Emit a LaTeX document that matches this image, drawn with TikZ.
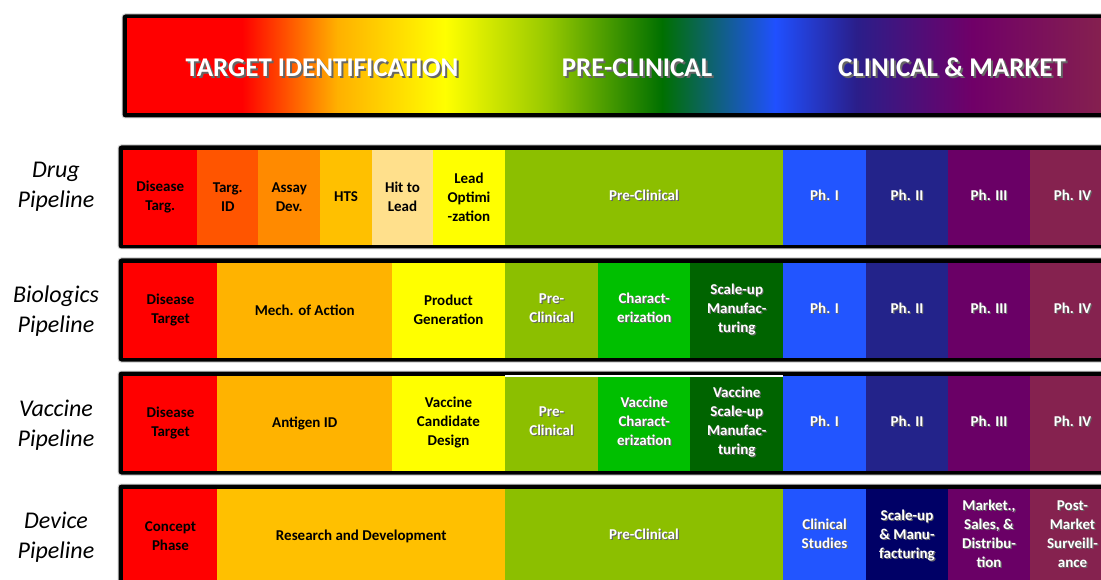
\documentclass[tikz,border=0pt]{standalone}
\usepackage{fontspec}
\newfontfamily\calfont{Carlito}
\usepackage{tikz}
\usetikzlibrary{positioning}

% spectrum of the header bar
\definecolor{gRed}{HTML}{FF0000}
\definecolor{gOrange}{HTML}{FFB000}
\definecolor{gYellow}{HTML}{FFFF00}
\definecolor{gLime}{HTML}{96C800}
\definecolor{gGreen}{HTML}{007000}
\definecolor{gBlue}{HTML}{2050FF}
\definecolor{gIndigo}{HTML}{2A1E8A}
\definecolor{gPurple}{HTML}{700068}
\definecolor{gMaroon}{HTML}{85204F}
% cell colours
\definecolor{cRed}{HTML}{FF0000}
\definecolor{cTargId}{HTML}{FF5500}
\definecolor{cAssay}{HTML}{FF8A00}
\definecolor{cHts}{HTML}{FFC000}
\definecolor{cHit}{HTML}{FFE08C}
\definecolor{cYellow}{HTML}{FFFF00}
\definecolor{cAmber}{HTML}{FFB300}
\definecolor{cLime}{HTML}{8CBF00}
\definecolor{cGreen}{HTML}{00BF00}
\definecolor{cDkGreen}{HTML}{006400}
\definecolor{cBlue}{HTML}{2255FF}
\definecolor{cNavy}{HTML}{23238A}
\definecolor{cDkNavy}{HTML}{000066}
\definecolor{cPurple}{HTML}{6A0066}
\definecolor{cMaroon}{HTML}{85224F}

\newcommand{\cellfont}{\calfont\bfseries\fontsize{15}{19}\selectfont}
\newcommand{\headfont}{\calfont\bfseries\fontsize{27}{32}\selectfont}
\newcommand{\labelfont}{\calfont\itshape\fontsize{24}{30}\selectfont}
% white text with a soft drop shadow
\newcommand{\shd}[2][1.2pt]{\rlap{\kern#1\raisebox{-#1}{\color{black!60}\begin{tabular}{@{}c@{}}#2\end{tabular}}}\begin{tabular}{@{}c@{}}#2\end{tabular}}

\begin{document}
\begin{tikzpicture}[x=1pt,y=-1pt,
  cell/.style={rectangle,fill=#1,draw=#1,line width=0.5pt,minimum height=94pt,inner sep=0pt,outer sep=0pt,align=center,text=black,font=\cellfont},
  wcell/.style={cell=#1,text=white},
  frame/.style={fill=black,draw=black!15,line width=1pt,rounded corners=3pt}]
  \tikzstyle{rowlabel}=[align=center,font=\labelfont]
  \tikzstyle{headtext}=[text=white,font=\headfont]

  \clip (0,0) rectangle (1101,580);
  \fill[white] (0,0) rectangle (1101,580);

  % header bar
  \path[frame] (122,14) rectangle (1125,118);
  \foreach \xa/\xb/\ca/\cb in {127/242/gRed/gRed, 242/337/gRed/gOrange, 337/445/gOrange/gYellow,
      445/548/gYellow/gLime, 548/662/gLime/gGreen, 662/775/gGreen/gBlue, 775/856/gBlue/gIndigo,
      856/972/gIndigo/gPurple, 972/1101/gPurple/gMaroon, 1101/1112/gMaroon/gMaroon}
    \shade[left color=\ca,right color=\cb] (\xa,19) rectangle (\xb+0.4,113);
  \node[headtext] (tTarget) at (322,71) {\shd[2pt]{TARGET IDENTIFICATION}};
  \node[headtext] (tPre) at (637,71) {\shd[2pt]{PRE-CLINICAL}};
  \node[headtext] (tClin) at (952,71) {\shd[2pt]{CLINICAL \& MARKET}};

  % row frames
  \path[frame] (118,145) rectangle (1125,249);
  \path[frame] (118,258) rectangle (1125,362);
  \path[frame] (118,371) rectangle (1125,475);
  \path[frame] (118,484) rectangle (1125,595);

  % drug
  \node[rowlabel] (lDrug) at (56,187) {Drug\\Pipeline};
  \node[cell=cRed,minimum width=73.5pt,anchor=west] (drgDis) at (123.5,197) {Disease\\Targ.};
  \node[cell=cTargId,minimum width=61.5pt,right=0pt of drgDis] (drgTid) {Targ.\\ID};
  \node[cell=cAssay,minimum width=61.5pt,right=0pt of drgTid] (drgAssay) {Assay\\Dev.};
  \node[cell=cHts,minimum width=52pt,right=0pt of drgAssay] (drgHts) {HTS};
  \node[cell=cHit,minimum width=61pt,right=0pt of drgHts] (drgHit) {Hit to\\Lead};
  \node[cell=cYellow,minimum width=72pt,right=0pt of drgHit] (drgLead) {Lead\\Optimi\\-zation};
  \node[wcell=cLime,minimum width=278pt,right=0pt of drgLead] (drgPre) {\shd{Pre-Clinical}};
  \node[wcell=cBlue,minimum width=83pt,right=0pt of drgPre] (drgPh1) {\shd{Ph. I}};
  \node[wcell=cNavy,minimum width=82pt,right=0pt of drgPh1] (drgPh2) {\shd{Ph. II}};
  \node[wcell=cPurple,minimum width=82pt,right=0pt of drgPh2] (drgPh3) {\shd{Ph. III}};
  \node[wcell=cMaroon,minimum width=85pt,right=0pt of drgPh3] (drgPh4) {\shd{Ph. IV}};

  % biologics
  \node[rowlabel] (lBio) at (56,311) {Biologics\\Pipeline};
  \node[cell=cRed,minimum width=94pt,anchor=west] (bioDis) at (123.5,310) {Disease\\Target};
  \node[cell=cAmber,minimum width=174.5pt,right=0pt of bioDis] (bioMech) {Mech. of Action};
  \node[cell=cYellow,minimum width=113pt,right=0pt of bioMech] (bioProd) {Product\\Generation};
  \node[wcell=cLime,minimum width=93pt,right=0pt of bioProd] (bioPre) {\shd{Pre-\\Clinical}};
  \node[wcell=cGreen,minimum width=92.5pt,right=0pt of bioPre] (bioChar) {\shd{Charact-\\erization}};
  \node[wcell=cDkGreen,minimum width=92.5pt,right=0pt of bioChar] (bioScale) {\shd{Scale-up\\Manufac-\\turing}};
  \node[wcell=cBlue,minimum width=83pt,right=0pt of bioScale] (bioPh1) {\shd{Ph. I}};
  \node[wcell=cNavy,minimum width=82pt,right=0pt of bioPh1] (bioPh2) {\shd{Ph. II}};
  \node[wcell=cPurple,minimum width=82pt,right=0pt of bioPh2] (bioPh3) {\shd{Ph. III}};
  \node[wcell=cMaroon,minimum width=85pt,right=0pt of bioPh3] (bioPh4) {\shd{Ph. IV}};

  % vaccine
  \node[rowlabel] (lVac) at (56,425) {Vaccine\\Pipeline};
  \node[cell=cRed,minimum width=94pt,anchor=west] (vacDis) at (123.5,423) {Disease\\Target};
  \node[cell=cAmber,minimum width=174.5pt,right=0pt of vacDis] (vacAnt) {Antigen ID};
  \node[cell=cYellow,minimum width=113pt,right=0pt of vacAnt] (vacCand) {Vaccine\\Candidate\\Design};
  \node[wcell=cLime,minimum width=93pt,right=0pt of vacCand] (vacPre) {\shd{Pre-\\Clinical}};
  \node[wcell=cGreen,minimum width=92.5pt,right=0pt of vacPre] (vacChar) {\shd{Vaccine\\Charact-\\erization}};
  \node[wcell=cDkGreen,minimum width=92.5pt,right=0pt of vacChar] (vacScale) {\shd{Vaccine\\Scale-up\\Manufac-\\turing}};
  \node[wcell=cBlue,minimum width=83pt,right=0pt of vacScale] (vacPh1) {\shd{Ph. I}};
  \node[wcell=cNavy,minimum width=82pt,right=0pt of vacPh1] (vacPh2) {\shd{Ph. II}};
  \node[wcell=cPurple,minimum width=82pt,right=0pt of vacPh2] (vacPh3) {\shd{Ph. III}};
  \node[wcell=cMaroon,minimum width=85pt,right=0pt of vacPh3] (vacPh4) {\shd{Ph. IV}};
  \draw[white,line width=1.2pt] (vacPre.north west) -- (vacScale.north east);

  % device
  \node[rowlabel] (lDev) at (56,537) {Device\\Pipeline};
  \node[cell=cRed,minimum width=94pt,anchor=west] (devCon) at (123.5,536) {Concept\\Phase};
  \node[cell=cHts,minimum width=287.5pt,right=0pt of devCon] (devRD) {Research and Development};
  \node[wcell=cLime,minimum width=278pt,right=0pt of devRD] (devPre) {\shd{Pre-Clinical}};
  \node[wcell=cBlue,minimum width=83pt,right=0pt of devPre] (devClin) {\shd{Clinical\\Studies}};
  \node[wcell=cDkNavy,minimum width=82pt,right=0pt of devClin] (devScale) {\shd{Scale-up\\\& Manu-\\facturing}};
  \node[wcell=cPurple,minimum width=82pt,right=0pt of devScale] (devMkt) {\shd{Market.,\\Sales, \&\\Distribu-\\tion}};
  \node[wcell=cMaroon,minimum width=85pt,right=0pt of devMkt] (devPost) {\shd{Post-\\Market\\Surveill-\\ance}};
\end{tikzpicture}
\end{document}
